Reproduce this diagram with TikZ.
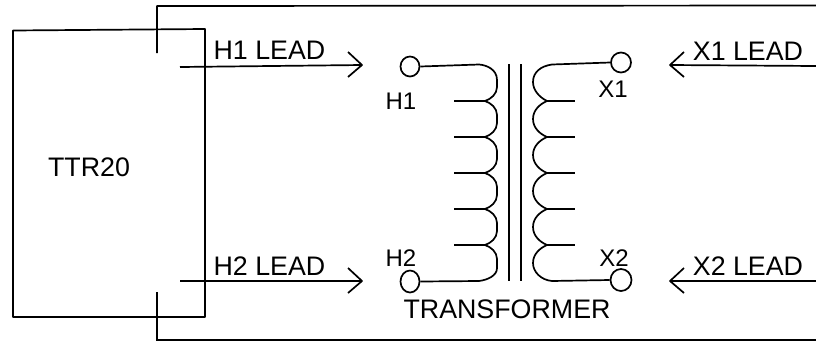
\documentclass[tikz,border=0pt]{standalone}
\usepackage{fontspec}
\setmainfont{Liberation Sans}
\usetikzlibrary{shapes.geometric}
\begin{document}
\begin{tikzpicture}[x=1pt,y=-1pt,
  wire/.style={line width=1.7pt,black,line join=round},
  thin wire/.style={line width=1.3pt,black},
  term/.style={draw,ellipse,line width=1.7pt,inner sep=0pt,minimum width=19pt,minimum height=20pt},
  lbl/.style={inner sep=0pt,text=black,font=\fontsize{26.8}{30}\selectfont},
  small lbl/.style={inner sep=0pt,text=black,font=\fontsize{24}{27}\selectfont}]
\useasboundingbox[fill=white] (0,0) rectangle (816,341);
% TTR20 box
\coordinate (bTL) at (13,30.5);
\coordinate (bTR) at (205,29);
\coordinate (bBR) at (205,317);
\coordinate (bBL) at (13,317);
\draw[wire] (bTL) -- (bTR) -- (bBR) -- (bBL) -- cycle;
% outer boundary
\coordinate (oTs) at (157,53);
\coordinate (oTc) at (157,6);
\coordinate (oTe) at (816,5.5);
\coordinate (oBs) at (157,292);
\coordinate (oBc) at (157,340);
\coordinate (oBe) at (816,340);
\draw[wire] (oTs) -- (oTc) -- (oTe);
\draw[thin wire] (oBs) -- (oBc) -- (oBe);
% leads
\foreach \n/\sx/\sy/\ex/\ey/\hx in {h1/180/67/362/65/348, h2/180/281/362/281/348, x1/816/66/670/65/684, x2/816/281/670/281/684}{
  \coordinate (\n s) at (\sx,\sy);
  \coordinate (\n e) at (\ex,\ey);
  \coordinate (\n a) at (\hx,\ey-13);
  \coordinate (\n b) at (\hx,\ey+12);
  \draw[wire] (\n s) -- (\n e);
  \draw[wire] (\n a) -- (\n e) -- (\n b);
}
% terminals
\node[term] (H1) at (410,66.5) {};
\node[term,minimum width=20pt] (X1) at (621,62.5) {};
\node[term,minimum height=22pt] (H2) at (410,281.5) {};
\node[term,minimum width=21pt,minimum height=22pt] (X2) at (621,280) {};
% core
\coordinate (c1t) at (509,64); \coordinate (c1b) at (509,281);
\coordinate (c2t) at (521,64); \coordinate (c2b) at (521,281);
\draw[wire] (c1t) -- (c1b);
\draw[wire] (c2t) -- (c2b);
% coils
\draw[wire] (H1.east) -- (479,64.5) .. controls (486,65) and (497,69) .. (497,80)
  -- (497,87) .. controls (497,94) and (491,99) .. (485,101)
  \foreach \a/\b in {101/137,137/173,173/209,209/245}{
    .. controls (491,\a+2) and (497,\a+7) .. (497,\a+14)
    -- (497,\b-14)
    .. controls (497,\b-7) and (491,\b-2) .. (485,\b) }
  .. controls (491,247) and (497,252) .. (497,259)
  -- (497,268) .. controls (497,276) and (487,280) .. (479,281) -- (H2.east);
\draw[wire] (X1.west) -- (552,64.5) .. controls (541,66) and (533,72) .. (533,82)
  .. controls (533,90) and (539,97) .. (547,101)
  \foreach \a/\b in {101/137,137/173,173/209,209/245}{
    .. controls (540,\a+3) and (533,\a+9) .. (533,\a+18)
    .. controls (533,\b-9) and (540,\b-3) .. (547,\b) }
  .. controls (540,248) and (533,254) .. (533,263)
  .. controls (533,272) and (541,280) .. (552,281) -- (X2.west);
% taps
\foreach \i/\y in {1/101,2/137,3/173,4/209,5/245}{
  \coordinate (lt\i) at (454,\y); \coordinate (lc\i) at (485,\y);
  \coordinate (rt\i) at (575,\y); \coordinate (rc\i) at (547,\y);
  \draw[wire] (lt\i) -- (lc\i);
  \draw[wire] (rc\i) -- (rt\i);
}
% labels
\node[lbl] (tH1) at (269.5,50.5) {H1 LEAD};
\node[lbl] (tH2) at (269.5,266) {H2 LEAD};
\node[lbl] (tX1) at (748,51) {X1 LEAD};
\node[lbl] (tX2) at (748,266) {X2 LEAD};
\node[lbl] (tT) at (89,167) {TTR20};
\node[lbl] (tTr) at (507,309.5) {TRANSFORMER};
\node[small lbl] (tlH1) at (401,101) {H1};
\node[small lbl] (tlX1) at (613,89) {X1};
\node[small lbl] (tlH2) at (401,258) {H2};
\node[small lbl] (tlX2) at (614,258) {X2};
\end{tikzpicture}
\end{document}
